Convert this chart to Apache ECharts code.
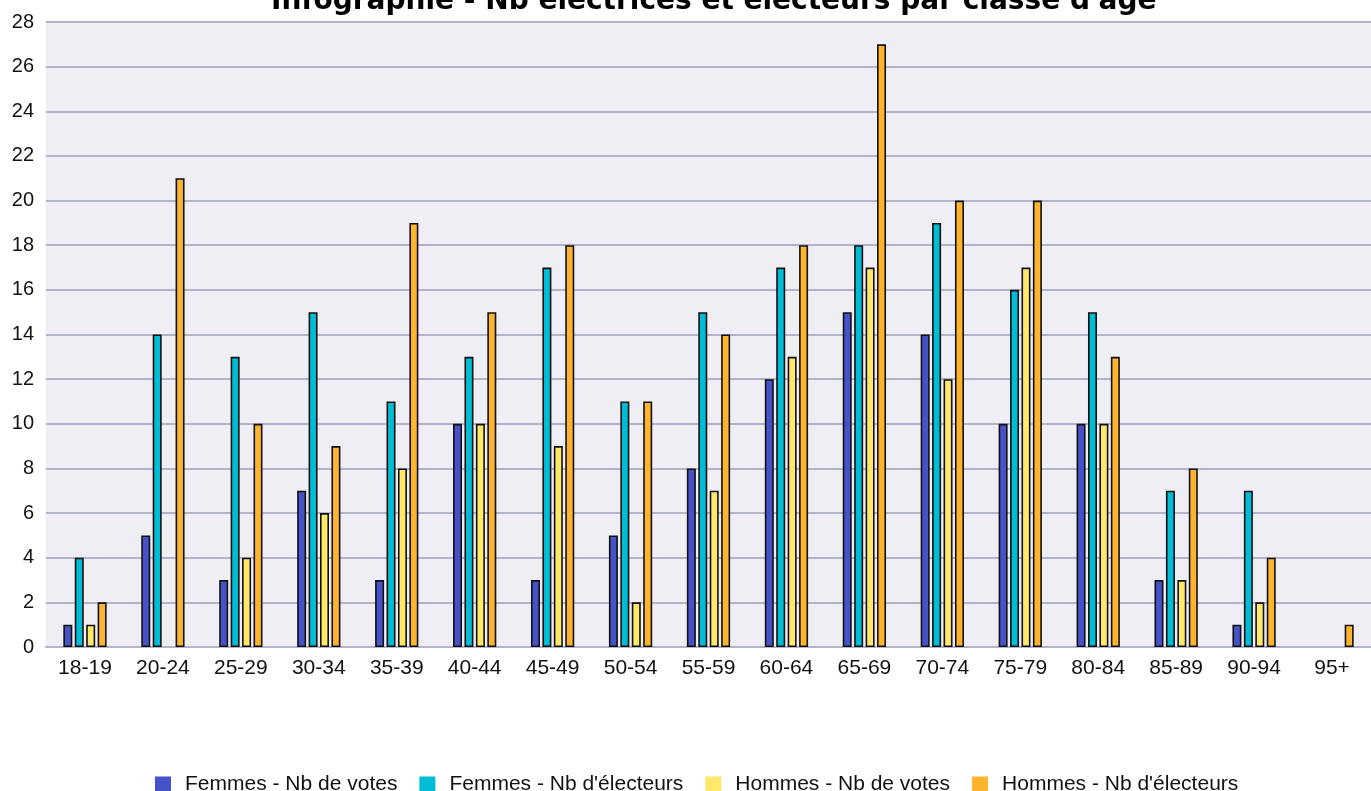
<!DOCTYPE html>
<html>
<head>
<meta charset="utf-8">
<script src="https://cdn.jsdelivr.net/npm/echarts@6/dist/echarts.min.js"></script>
<style>
  html, body { margin: 0; padding: 0; background: #fff; }
  #main { width: 1371px; height: 791px; }
</style>
</head>
<body>
<div id="main"></div>
<script>
// classes d'âge
var categories = ['18-19', '20-24', '25-29', '30-34', '35-39', '40-44', '45-49', '50-54', '55-59',
    '60-64', '65-69', '70-74', '75-79', '80-84', '85-89', '90-94', '95+'];

var femmesVotes = [1, 5, 3, 7, 3, 10, 3, 5, 8, 12, 15, 14, 10, 10, 3, 1, 0];
var femmesElecteurs = [4, 14, 13, 15, 11, 13, 17, 11, 15, 17, 18, 19, 16, 15, 7, 7, 0];
var hommesVotes = [1, 0, 4, 6, 8, 10, 9, 2, 7, 13, 17, 12, 17, 10, 3, 2, 0];
var hommesElecteurs = [2, 21, 10, 9, 19, 15, 18, 11, 14, 18, 27, 20, 20, 13, 8, 4, 1];

var seriesNames = ['Femmes - Nb de votes', "Femmes - Nb d'électeurs", 'Hommes - Nb de votes', "Hommes - Nb d'électeurs"];
var colors = ['#4652c8', '#00bcd4', '#ffe86a', '#ffb430'];

var myChart = echarts.init(document.getElementById('main'));

function barSerie(name, data) {
    return {
        name: name,
        type: 'bar',
        // les valeurs nulles ne sont pas dessinées
        data: data.map(function (v) { return v === 0 ? '-' : v; }),
        barWidth: 9,
        barGap: '27%',
        itemStyle: { borderColor: '#111', borderWidth: 1.6 },
        emphasis: { disabled: true }
    };
}

var option = {
    animation: false,
    color: colors,
    textStyle: { fontFamily: '"Liberation Sans", Arial, sans-serif' },
    title: {
        text: "Infographie - Nb électrices et électeurs par classe d'âge",
        left: 266,
        top: -17,
        textStyle: { fontFamily: '"DejaVu Sans", Verdana, sans-serif', fontWeight: 'bold', fontSize: 28, color: '#000' }
    },
    legend: {
        left: 150,
        top: 769,
        itemWidth: 16,
        itemHeight: 16,
        itemGap: 22,
        icon: 'rect',
        itemStyle: { borderWidth: 0 },
        textStyle: { fontSize: 21, color: '#111', padding: [0, 0, 0, 9] },
        data: seriesNames
    },
    grid: {
        left: 46,
        top: 22,
        width: 1337,
        height: 625,
        show: true,
        backgroundColor: '#efeef4',
        borderWidth: 0,
        containLabel: false
    },
    xAxis: {
        type: 'category',
        data: categories,
        axisLine: { lineStyle: { color: '#b3b2cb', width: 2 } },
        axisTick: { show: false },
        axisLabel: { fontSize: 21, color: '#111', margin: 11 }
    },
    yAxis: {
        type: 'value',
        min: 0,
        max: 28,
        interval: 2,
        axisLine: { show: false },
        axisTick: { show: false },
        axisLabel: { fontSize: 20, color: '#111', margin: 12 },
        splitLine: { lineStyle: { color: '#b3b2cb', width: 2 } }
    },
    series: [
        barSerie(seriesNames[0], femmesVotes),
        barSerie(seriesNames[1], femmesElecteurs),
        barSerie(seriesNames[2], hommesVotes),
        barSerie(seriesNames[3], hommesElecteurs)
    ]
};

myChart.setOption(option);
</script>
</body>
</html>
